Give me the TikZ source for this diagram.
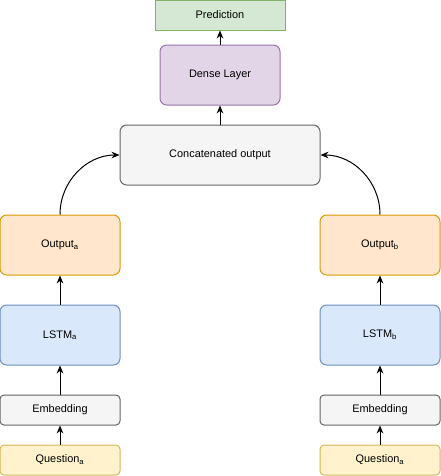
\documentclass[tikz,border=0pt]{standalone}
\usepackage{fontspec}
\setmainfont{Liberation Sans}
\usepackage{tikz}
\usetikzlibrary{arrows.meta,positioning}
\definecolor{predf}{HTML}{D5E8D4}
\definecolor{predd}{HTML}{82B366}
\definecolor{densf}{HTML}{E1D5E7}
\definecolor{densd}{HTML}{9673A6}
\definecolor{grayf}{HTML}{F5F5F5}
\definecolor{grayd}{HTML}{666666}
\definecolor{outf}{HTML}{FFE6CC}
\definecolor{outd}{HTML}{D79B00}
\definecolor{lstmf}{HTML}{DAE8FC}
\definecolor{lstmd}{HTML}{6C8EBF}
\definecolor{quesf}{HTML}{FFF2CC}
\definecolor{quesd}{HTML}{D6B656}
\tikzset{
  ar/.style={-{Stealth[length=6pt,width=5pt]},line width=0.75pt,black},
  blk/.style={draw,line width=0.75pt,rounded corners=5pt,align=center,inner sep=2pt,
    minimum width=90pt,minimum height=45pt,font=\fontsize{8.2}{10}\selectfont},
  slim/.style={blk,rounded corners=3pt,minimum height=22.5pt}
}
\begin{document}
\begin{tikzpicture}[x=0.75pt,y=-0.75pt]
\useasboundingbox (0,0) rectangle (441,476);
% top of the network
\node[blk,sharp corners,minimum width=97.5pt,minimum height=22.5pt,draw=predd,fill=predf] (pred) at (220,15) {Prediction};
\node[blk,draw=densd,fill=densf] (dense) at (220,75) {Dense Layer};
\node[blk,minimum width=150pt,draw=grayd,fill=grayf] (concat) at (220,155) {Concatenated output};
% left branch
\node[blk,draw=outd,fill=outf] (outa) at (60,245) {Output\textsubscript{a}};
\node[blk,draw=lstmd,fill=lstmf] (lstma) at (60,335) {LSTM\textsubscript{a}};
\node[slim,draw=grayd,fill=grayf] (emba) at (60,410) {Embedding};
\node[slim,draw=quesd,fill=quesf] (quesa) at (60,460) {Question\textsubscript{a}};
% right branch
\node[blk,draw=outd,fill=outf] (outb) at (380,245) {Output\textsubscript{b}};
\node[blk,draw=lstmd,fill=lstmf] (lstmb) at (380,335) {LSTM\textsubscript{b}};
\node[slim,draw=grayd,fill=grayf] (embb) at (380,410) {Embedding};
\node[slim,draw=quesd,fill=quesf] (quesb) at (380,460) {Question\textsubscript{a}};
% connectors
\draw[ar] (quesa) -- (emba);
\draw[ar] (emba) -- (lstma);
\draw[ar] (lstma) -- (outa);
\draw[ar] (quesb) -- (embb);
\draw[ar] (embb) -- (lstmb);
\draw[ar] (lstmb) -- (outb);
\draw[ar] (outa.north) to[out=90,in=180] (concat.west);
\draw[ar] (outb.north) to[out=90,in=0] (concat.east);
\draw[ar] (concat) -- (dense);
\draw[ar] (dense) -- (pred);
\end{tikzpicture}
\end{document}
